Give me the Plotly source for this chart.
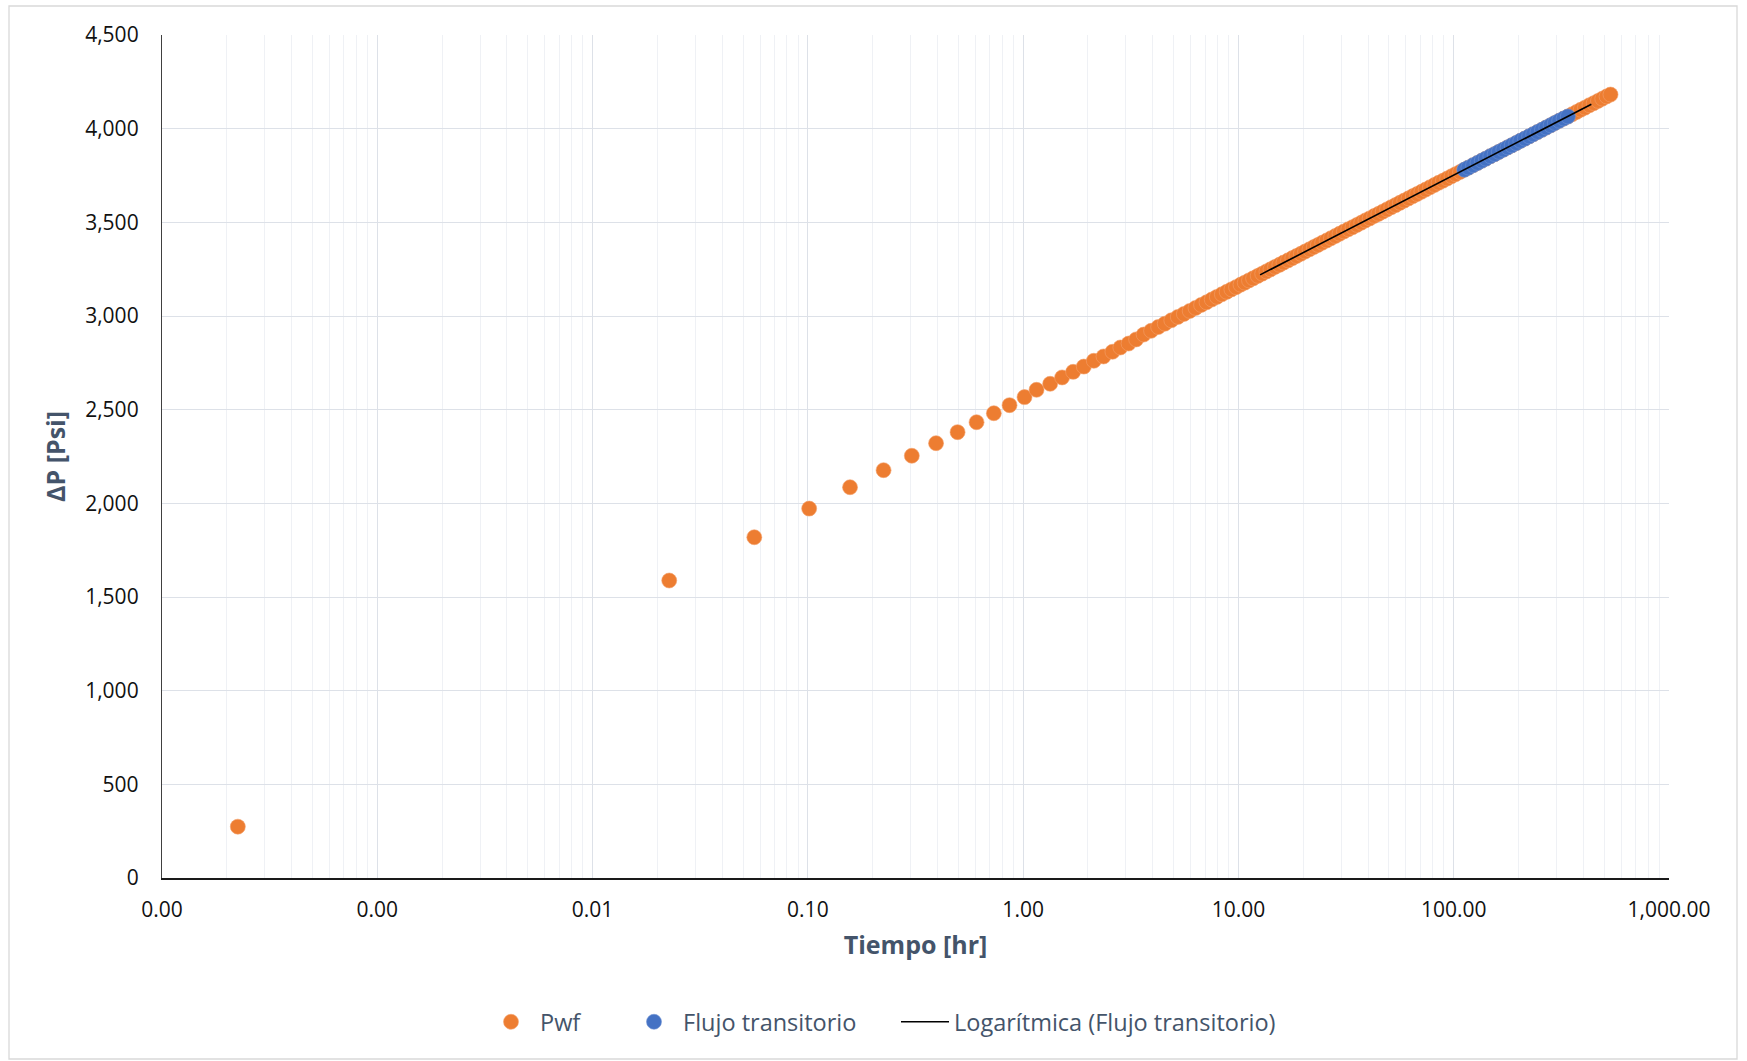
import numpy as np
import plotly.graph_objects as go

# --- datos: tiempo [hr] y caida de presion [psi] ---
tiempo_temprano = [0.000225, 0.0227, 0.0564, 0.1014, 0.157, 0.2247, 0.304, 0.394,
                   0.496, 0.6075, 0.731, 0.8645, 1.015, 1.154, 1.335, 1.517, 1.707,
                   1.914, 2.13, 2.363, 2.60, 2.83, 3.09, 3.35]
dp_temprano = [274, 1588, 1819, 1972, 2086, 2177, 2254, 2321,
               2380, 2433, 2481, 2524, 2567, 2606, 2638, 2672, 2702,
               2730, 2761, 2784, 2809, 2832, 2853, 2875]

tiempo_medio = [3.63, 3.93, 4.24, 4.55, 4.88, 5.23, 5.58, 5.94, 6.32, 6.71,
                7.11, 7.52, 7.94, 8.38, 8.82, 9.28, 9.75, 10.23]
dp_medio = [2901, 2921, 2941, 2959, 2977, 2995, 3011, 3027, 3043, 3059,
            3073, 3088, 3102, 3116, 3129, 3142, 3154, 3167]

tiempo_tardio = [10.7, 11.2, 11.7, 12.3, 12.9, 13.5, 14.1, 14.8, 15.5, 16.2,
                 17.0, 17.8, 18.6, 19.5, 20.4, 21.4, 22.4, 23.4, 24.5, 25.7,
                 26.9, 28.2, 29.5, 30.9, 32.4, 33.9, 35.5, 37.2, 38.9, 40.7,
                 42.7, 44.7, 46.8, 49.0, 51.3, 53.7, 56.2, 58.9, 61.7, 64.6,
                 67.6, 70.8, 74.1, 77.6, 81.3, 85.1, 89.1, 93.3, 97.7, 102,
                 107, 112, 117, 123, 129, 135, 141, 148, 155, 162,
                 170, 178, 186, 195, 204, 214, 224, 234, 245, 257,
                 269, 282, 295, 309, 324, 339, 355, 372, 389, 407,
                 427, 447, 468, 490, 513, 535]
dp_tardio = [3178, 3190, 3201, 3214, 3226, 3238, 3249, 3262, 3273, 3285,
             3297, 3309, 3320, 3332, 3344, 3356, 3368, 3379, 3391, 3403,
             3415, 3427, 3439, 3451, 3463, 3474, 3486, 3498, 3510, 3521,
             3534, 3545, 3557, 3569, 3581, 3592, 3604, 3616, 3628, 3640,
             3651, 3663, 3675, 3687, 3699, 3711, 3722, 3734, 3746, 3757,
             3769, 3781, 3792, 3805, 3817, 3829, 3840, 3853, 3864, 3876,
             3888, 3900, 3911, 3923, 3935, 3947, 3959, 3970, 3982, 3994,
             4006, 4018, 4030, 4042, 4054, 4065, 4077, 4089, 4101, 4112,
             4125, 4136, 4148, 4160, 4172, 4182]

# ventana de flujo transitorio (puntos azules)
transitorio_desde, transitorio_hasta = 110, 340
# alcance de la linea de tendencia logaritmica (pronostico de Excel)
tendencia_t = [12.6, 436]

t = np.array(tiempo_temprano + tiempo_medio + tiempo_tardio, dtype=float)
dp = np.array(dp_temprano + dp_medio + dp_tardio, dtype=float)

mask = (t >= transitorio_desde) & (t <= transitorio_hasta)
t_tr, dp_tr = t[mask], dp[mask]

# ajuste y = a + b*ln(t) sobre el flujo transitorio
b, a = np.polyfit(np.log(t_tr), dp_tr, 1)
t_fit = np.array(tendencia_t)
dp_fit = a + b * np.log(t_fit)

# --- figura ---
W, H = 1747, 1061
L, R, T, B = 162, 78, 35, 183
PW, PH = W - L - R, H - T - B


def py(px):
    # pixel vertical de la pagina -> coordenada paper
    return (H - B - px) / PH


def pxx(px):
    return (px - L) / PW


ORANGE = '#ED7D31'
BLUE = '#4472C4'
TITLE_C = '#44546A'
FONT = 'Open Sans'

fig = go.Figure()
fig.add_trace(go.Scatter(x=t, y=dp, mode='markers', name='Pwf', legend='legend',
                         marker=dict(color=ORANGE, size=15,
                                     line=dict(color='#F4A06A', width=0.6))))
fig.add_trace(go.Scatter(x=t_tr, y=dp_tr, mode='markers', name='Flujo transitorio',
                         legend='legend2',
                         marker=dict(color=BLUE, size=15,
                                     line=dict(color='#6E92D4', width=0.6))))
fig.add_trace(go.Scatter(x=t_fit, y=dp_fit, mode='lines', legend='legend3',
                         name='Logarítmica (Flujo transitorio)',
                         line=dict(color='black', width=1.6)))

fig.update_xaxes(type='log', range=[-4, 3], dtick=1, tickformat=',.2f',
                 showgrid=True, gridcolor='#DDE1E8', gridwidth=1.4,
                 minor=dict(dtick='D1', showgrid=True, gridcolor='#EFF1F5', gridwidth=1),
                 showline=True, linecolor='#1A1A1A', linewidth=2,
                 zeroline=False, ticks='', ticklabelstandoff=12,
                 tickfont=dict(family=FONT, size=21, color='#111111'),
                 title=dict(text='Tiempo [hr]', standoff=14,
                            font=dict(family=FONT, size=25, color=TITLE_C, weight='bold')))
fig.update_yaxes(range=[0, 4500], dtick=500, tickformat=',d',
                 showgrid=True, gridcolor='#DDE1E8', gridwidth=1.4,
                 showline=True, linecolor='#404040', linewidth=1.3,
                 zeroline=False, ticks='', ticklabelstandoff=18,
                 tickfont=dict(family=FONT, size=21, color='#111111'),
                 title=dict(text='ΔP [Psi]', standoff=12,
                            font=dict(family=FONT, size=25, color=TITLE_C, weight='bold')))

# borde del area del grafico (estilo Excel)
fig.add_shape(type='rect', xref='paper', yref='paper', layer='below',
              x0=pxx(9), x1=pxx(1737), y0=py(1059), y1=py(6),
              line=dict(color='#D9D9D9', width=1.3), fillcolor='rgba(0,0,0,0)')


def leyenda(x_px):
    return dict(orientation='h', x=pxx(x_px), xanchor='left',
                y=py(1022), yanchor='middle',
                font=dict(family=FONT, size=23.5, color=TITLE_C),
                itemwidth=48, bgcolor='rgba(0,0,0,0)')


fig.update_layout(width=W, height=H, margin=dict(l=L, r=R, t=T, b=B),
                  paper_bgcolor='white', plot_bgcolor='white',
                  font=dict(family=FONT),
                  showlegend=True,
                  legend=leyenda(482), legend2=leyenda(625), legend3=leyenda(896))

fig.write_html("out.html", config={'displayModeBar': False},
               post_script="document.body.style.margin='0';document.body.style.overflow='hidden';")
